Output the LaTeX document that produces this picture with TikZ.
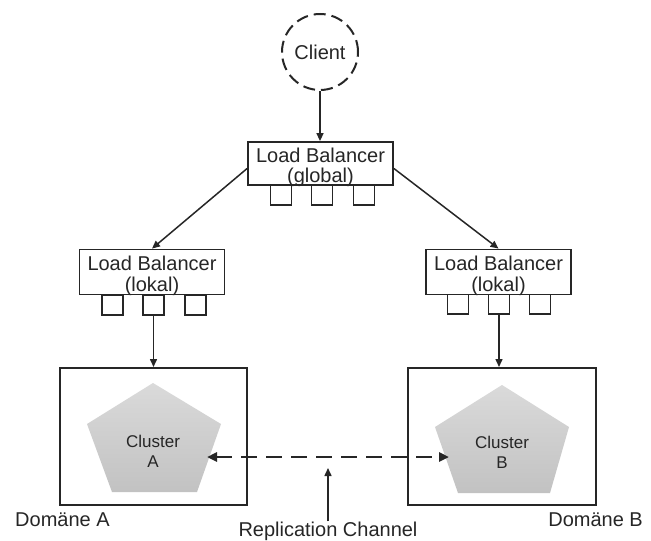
\documentclass[tikz,border=0pt]{standalone}
\usepackage{fontspec}
\setmainfont{Liberation Sans}
\usetikzlibrary{arrows.meta,calc}
\definecolor{ink}{HTML}{262626}
\definecolor{penttop}{HTML}{DADADA}
\definecolor{pentbot}{HTML}{C2C2C2}
\begin{document}
\begin{tikzpicture}[x=1pt,y=-1pt,
  box/.style={draw=ink, line width=1.8pt, fill=white, inner sep=0pt},
  lbbox/.style={box, minimum width=145pt, minimum height=45pt},
  port/.style={draw=ink, line width=1.5pt, fill=white, minimum width=21pt, minimum height=20pt, inner sep=0pt, anchor=north},
  lbtext/.style={text=ink, font=\fontsize{20}{19.5}\selectfont, align=center, inner sep=0pt},
  labeltext/.style={text=ink, font=\fontsize{20}{22}\selectfont, inner sep=0pt},
  cltext/.style={text=ink, font=\fontsize{17}{20}\selectfont, align=center, inner sep=0pt},
  conn/.style={draw=ink, line width=1.5pt, -{Triangle[length=8pt,width=7pt]}},
  pent/.style={top color=penttop, bottom color=pentbot, draw=none},
  dombox/.style={draw=ink, line width=2pt, fill=white, inner sep=0pt}
]
\useasboundingbox (0,0) rectangle (651,541);

% Client
\node[draw=ink, line width=2pt, dash pattern=on 12pt off 6pt, circle, minimum size=76pt, inner sep=0pt,
      text=ink, font=\fontsize{20}{22}\selectfont] (client) at (320,52) {Client};

% Global load balancer
\node[port] (pg1) at (281,184) {};
\node[port] (pg2) at (322,184) {};
\node[port] (pg3) at (364,184) {};
\node[lbbox, minimum height=43pt] (lbg) at (320.5,163.5) {};
\node[lbtext] (lbgt) at ($(lbg.center)+(0,4)$) {Load Balancer\\(global)};

% Local load balancer left
\node[port] (pl1) at (112.5,294) {};
\node[port] (pl2) at (153.5,294) {};
\node[port] (pl3) at (195.5,294) {};
\node[lbbox] (lbl) at (152,272) {};
\node[lbtext, font=\fontsize{20}{21}\selectfont] (lblt) at ($(lbl.center)+(0,4)$) {Load Balancer\\(lokal)};

% Local load balancer right
\node[port] (pr1) at (458,293) {};
\node[port] (pr2) at (499,293) {};
\node[port] (pr3) at (540,293) {};
\node[lbbox] (lbr) at (498.5,272) {};
\node[lbtext, font=\fontsize{20}{21}\selectfont] (lbrt) at ($(lbr.center)+(0,4)$) {Load Balancer\\(lokal)};

% Domains
\node[dombox, minimum width=187pt, minimum height=137pt] (domA) at (153.5,436.5) {};
\node[dombox, minimum width=188pt, minimum height=137pt] (domB) at (502,436.5) {};

% Pentagons
\path[pent] (153,383) -- (221,424) -- (197,492) -- (112,492) -- (87,424) -- cycle;
\path[pent] (502,385) -- (569,427) -- (550,493) -- (458,493) -- (435,427) -- cycle;
\node[cltext] (clA) at (153,451) {Cluster\\A};
\node[cltext] (clB) at (502,452) {Cluster\\B};

% Connectors
\draw[conn] (client.south) -- (client.south |- lbg.north);
\draw[conn] ($(lbg.west)+(0,5)$) -- (lbl.north);
\draw[conn] ($(lbg.east)+(0,5)$) -- (lbr.north);
\draw[conn] (pl2.south) -- (pl2.south |- domA.north);
\draw[conn] (pr2.south) -- (pr2.south |- domB.north);

% Replication channel
\coordinate (repA) at (207,457);
\coordinate (repB) at (449,457);
\draw[draw=ink, line width=2.8pt, dash pattern=on 16pt off 9pt,
      {Triangle[length=10pt,width=9pt]}-{Triangle[length=10pt,width=9pt]}] (repA) -- (repB);

% Labels
\node[labeltext, anchor=base west] (labA) at (15,526) {Domäne A};
\node[labeltext, anchor=base east] (labB) at (643,526) {Domäne B};
\node[labeltext, anchor=base] (rep) at (328,536) {Replication Channel};
\coordinate (repTip) at (328,468);
\draw[conn] (rep.north) -- (repTip);
\end{tikzpicture}
\end{document}
